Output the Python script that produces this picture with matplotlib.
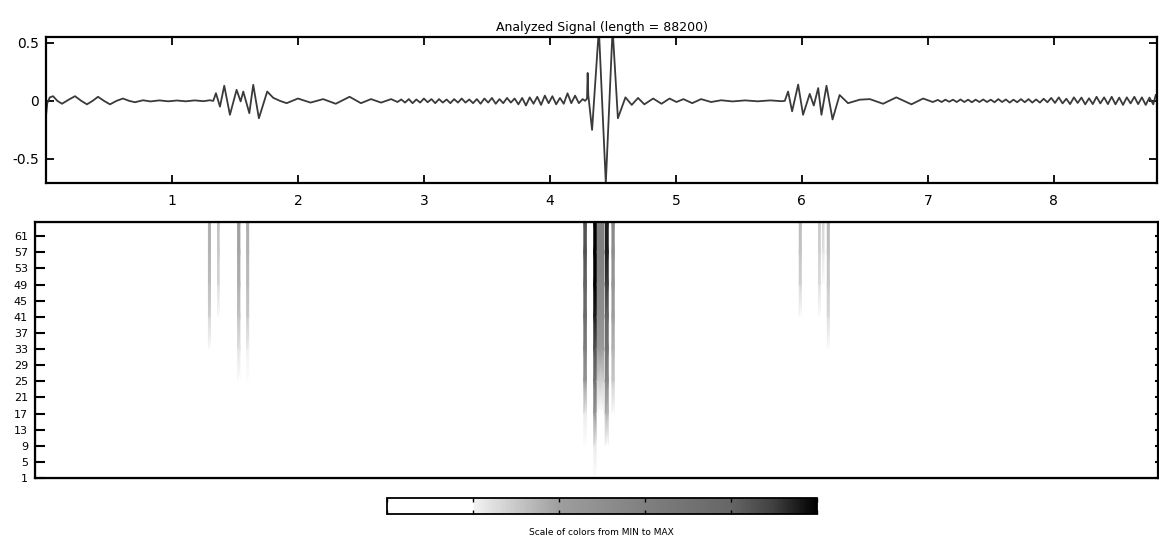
import numpy as np
import matplotlib
matplotlib.use('Agg')
import matplotlib.pyplot as plt
from matplotlib.colors import LinearSegmentedColormap, Normalize
from matplotlib.cm import ScalarMappable

# signal, (time, amplitude) per segment
sig_start = [(0.0, -0.13), (0.01, -0.02), (0.03, 0.03), (0.056, 0.04), (0.09, 0.0),
             (0.127, -0.025), (0.18, 0.01), (0.23, 0.04), (0.28, 0.0), (0.325, -0.03),
             (0.37, 0.0), (0.413, 0.035), (0.46, 0.0), (0.508, -0.03), (0.56, 0.0),
             (0.611, 0.02), (0.66, 0.0), (0.706, -0.012), (0.77, 0.005), (0.83, -0.005),
             (0.9, 0.004), (0.97, -0.004), (1.04, 0.003), (1.11, -0.004), (1.18, 0.004),
             (1.25, -0.003), (1.30, 0.005), (1.328, 0.0)]
sig_burst1 = [(1.349, 0.066), (1.381, -0.05), (1.415, 0.13), (1.46, -0.12), (1.513, 0.095),
              (1.545, -0.005), (1.566, 0.08), (1.614, -0.106), (1.645, 0.138), (1.69, -0.15),
              (1.756, 0.08), (1.804, 0.026), (1.857, 0.0)]
sig_slow1 = [(1.91, -0.02), (2.0, 0.02), (2.1, -0.015), (2.2, 0.015), (2.3, -0.025),
             (2.41, 0.035), (2.5, -0.02), (2.58, 0.015), (2.66, -0.015), (2.74, 0.015),
             (2.79, -0.01)]
sig_fast1 = [(2.82, 0.012), (2.85, -0.015), (2.88, 0.015), (2.91, -0.02), (2.94, 0.012),
             (2.97, -0.015), (3.00, 0.02), (3.03, -0.012), (3.06, 0.015), (3.09, -0.02),
             (3.12, 0.015), (3.15, -0.015), (3.18, 0.012), (3.21, -0.02), (3.24, 0.015),
             (3.27, -0.015), (3.30, 0.02), (3.33, -0.015), (3.36, 0.012), (3.39, -0.02),
             (3.42, 0.015), (3.45, -0.025), (3.48, 0.02), (3.51, -0.015), (3.54, 0.025),
             (3.57, -0.025), (3.60, 0.015), (3.63, -0.02), (3.66, 0.025), (3.69, -0.015),
             (3.72, 0.02), (3.75, -0.03), (3.78, 0.025), (3.81, -0.04), (3.84, 0.03),
             (3.87, -0.025), (3.90, 0.035), (3.93, -0.035), (3.96, 0.045), (3.99, -0.02),
             (4.02, 0.04), (4.05, -0.03), (4.08, 0.025), (4.11, -0.025), (4.14, 0.065),
             (4.17, -0.02), (4.20, 0.045), (4.23, -0.02), (4.26, 0.015), (4.28, 0.0)]
sig_burst2 = [(4.295, 0.02), (4.300, 0.24), (4.305, 0.05), (4.335, -0.25), (4.389, 0.62),
              (4.444, -0.71), (4.498, 0.62), (4.54, -0.15), (4.6, 0.03), (4.65, -0.035),
              (4.70, 0.025), (4.75, -0.03), (4.82, 0.02), (4.886, -0.025), (4.95, 0.02),
              (5.005, -0.01)]
sig_calm = [(5.06, 0.015), (5.13, -0.02), (5.2, 0.015), (5.28, -0.01), (5.36, 0.005),
            (5.45, -0.005), (5.55, 0.004), (5.65, -0.004), (5.75, 0.004), (5.84, -0.003),
            (5.865, 0.0)]
sig_burst3 = [(5.891, 0.08), (5.923, -0.09), (5.971, 0.14), (6.010, -0.12), (6.063, 0.06),
              (6.095, -0.04), (6.13, 0.11), (6.156, -0.12), (6.196, 0.13), (6.244, -0.16),
              (6.30, 0.05), (6.367, -0.02), (6.46, 0.01), (6.54, 0.015), (6.645, -0.025),
              (6.75, 0.03), (6.87, -0.03), (6.963, 0.02), (7.04, -0.01)]
sig_fast2 = [(7.08, 0.008), (7.11, -0.01), (7.14, 0.01), (7.17, -0.008), (7.20, 0.01),
             (7.23, -0.01), (7.26, 0.012), (7.29, -0.01), (7.32, 0.01), (7.35, -0.012),
             (7.38, 0.01), (7.41, -0.01), (7.44, 0.012), (7.47, -0.01), (7.50, 0.01),
             (7.53, -0.012), (7.56, 0.015), (7.59, -0.01), (7.62, 0.012), (7.65, -0.015),
             (7.68, 0.01), (7.71, -0.012), (7.74, 0.015), (7.77, -0.012), (7.80, 0.015),
             (7.83, -0.015), (7.86, 0.012), (7.89, -0.015), (7.92, 0.018), (7.95, -0.012),
             (7.98, 0.025), (8.01, -0.018), (8.04, 0.03), (8.07, -0.022), (8.10, 0.018),
             (8.13, -0.028), (8.16, 0.03), (8.19, -0.018), (8.22, 0.028), (8.25, -0.03),
             (8.28, 0.022), (8.31, -0.028), (8.34, 0.035), (8.37, -0.022), (8.40, 0.03),
             (8.43, -0.028), (8.46, 0.035), (8.49, -0.03), (8.52, 0.028), (8.55, -0.035),
             (8.58, 0.03), (8.61, -0.022), (8.64, 0.035), (8.67, -0.028), (8.70, 0.03),
             (8.73, -0.035), (8.76, 0.028), (8.79, -0.03), (8.81, 0.05)]

# scalogram ridges: time, half width, darkness at each scale level
scale_levels = [64.5, 57, 49, 41, 33, 25, 17, 9, 1]
line_t = [1.37, 1.44, 1.60, 1.67, 4.32, 4.40, 4.44, 4.49, 4.54, 6.01, 6.16, 6.19, 6.23]
line_w = [0.008, 0.006, 0.009, 0.008, 0.01, 0.012, 0.025, 0.012, 0.009,
          0.008, 0.007, 0.006, 0.008]
line_int = [
    [0.36, 0.35, 0.33, 0.28, 0.18, 0, 0, 0, 0],
    [0.32, 0.30, 0.27, 0.19, 0, 0, 0, 0, 0],
    [0.40, 0.38, 0.36, 0.32, 0.24, 0.10, 0, 0, 0],
    [0.36, 0.35, 0.33, 0.30, 0.21, 0.05, 0, 0, 0],
    [0.85, 0.85, 0.80, 0.75, 0.60, 0.45, 0.22, 0, 0],
    [1.0, 1.0, 1.0, 0.95, 0.85, 0.70, 0.45, 0.22, 0],
    [0.60, 0.60, 0.55, 0.50, 0.42, 0.28, 0.12, 0, 0],
    [0.95, 0.95, 0.90, 0.80, 0.70, 0.55, 0.35, 0.15, 0],
    [0.55, 0.50, 0.45, 0.40, 0.35, 0.30, 0.20, 0, 0],
    [0.33, 0.31, 0.28, 0.20, 0.05, 0, 0, 0, 0],
    [0.30, 0.28, 0.25, 0.19, 0, 0, 0, 0, 0],
    [0.27, 0.24, 0.19, 0.05, 0, 0, 0, 0, 0],
    [0.34, 0.32, 0.30, 0.26, 0.15, 0, 0, 0, 0],
]
scale_ticks = list(range(1, 62, 4))
time_ticks = [1, 2, 3, 4, 5, 6, 7, 8]

# gray map: white up to 20 %, then light gray down to black
cmap = LinearSegmentedColormap.from_list('scal', [
    (0.0, (1, 1, 1)), (0.2, (1, 1, 1)), (0.2, (0.95, 0.95, 0.95)),
    (0.4, (0.62, 0.62, 0.62)), (0.6, (0.5, 0.5, 0.5)), (0.8, (0.4, 0.4, 0.4)),
    (0.9, (0.25, 0.25, 0.25)), (1.0, (0, 0, 0))])

signal = sig_start + sig_burst1 + sig_slow1 + sig_fast1 + sig_burst2 + sig_calm + sig_burst3 + sig_fast2
t = np.array([p[0] for p in signal])
v = np.array([p[1] for p in signal])

fig = plt.figure(figsize=(11.59, 5.38), dpi=100)
ax1 = fig.add_axes([0.0397, 0.6599, 0.9586, 0.2714])
ax2 = fig.add_axes([0.0302, 0.1115, 0.969, 0.4758])
cax = fig.add_axes([0.3339, 0.0446, 0.371, 0.0297])

ax1.plot(t, v, color='#3a3a3a', lw=1.3)
ax1.set_xlim(0, 8.82)
ax1.set_ylim(-0.707, 0.55)
ax1.set_xticks(time_ticks)
ax1.set_yticks([-0.5, 0, 0.5])
ax1.set_yticklabels(['-0.5', '0', '0.5'])
ax1.tick_params(direction='in', top=True, right=True, length=6, width=1.3, labelsize=10)
ax1.tick_params(axis='x', pad=8)
ax1.tick_params(axis='y', pad=5)
ax1.set_title('Analyzed Signal (length = 88200)', fontsize=9, pad=4)
for s in ax1.spines.values():
    s.set_linewidth(1.6)

for ti, wi, row in zip(line_t, line_w, line_int):
    X, Y = np.meshgrid([ti - wi, ti + wi], scale_levels)
    C = np.column_stack([row, row])
    ax2.pcolormesh(X, Y, C, shading='gouraud', cmap=cmap, vmin=0, vmax=1)
ax2.set_xlim(0, 8.82)
ax2.set_ylim(1, 64.5)
ax2.set_xticks([])
ax2.set_yticks(scale_ticks)
ax2.tick_params(axis='y', direction='in', left=True, right=False, length=7, width=1.5,
                labelsize=8, pad=5)
for s in ax2.spines.values():
    s.set_linewidth(1.6)

# short right-side ticks of the scalogram
ax2r = ax2.twinx()
ax2r.set_ylim(1, 64.5)
ax2r.set_yticks(scale_ticks)
ax2r.tick_params(axis='y', direction='in', length=2.5, width=1.5, labelright=False)

cb = fig.colorbar(ScalarMappable(norm=Normalize(0, 1), cmap=cmap), cax=cax,
                  orientation='horizontal')
cb.set_ticks([0, 0.2, 0.4, 0.6, 0.8, 1.0])
cax.tick_params(direction='in', top=True, bottom=True, labelbottom=False, length=3, width=1)
cb.outline.set_linewidth(1.3)
fig.text(0.5187, 0.011, 'Scale of colors from MIN to MAX', ha='center', va='center', fontsize=6.5)

fig.savefig('out.png', dpi=100)
